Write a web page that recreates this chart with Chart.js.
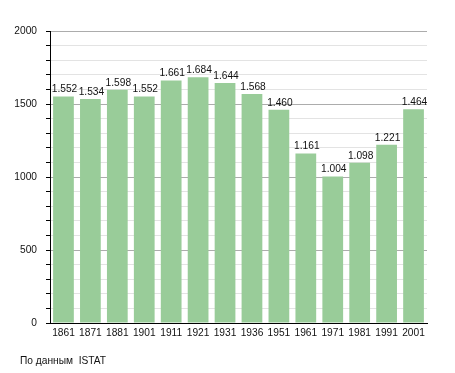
<!DOCTYPE html>
<html>
<head>
<meta charset="utf-8">
<script src="https://cdn.jsdelivr.net/npm/chart.js@4/dist/chart.umd.min.js"></script>
<style>
    html, body { margin: 0; padding: 0; background: #fff; }
    #wrap { position: relative; width: 455px; height: 373px; }
    #note { position: absolute; left: 20px; top: 355px; font: 10.2px "Liberation Sans", Arial, sans-serif;
            color: #111; white-space: pre; }
</style>
</head>
<body>
<div id="wrap">
    <canvas id="chart" width="455" height="373"></canvas>
    <div id="note">По данным  ISTAT</div>
</div>
<script>
// ---- DATA ----
const years = ['1861', '1871', '1881', '1901', '1911', '1921', '1931', '1936',
               '1951', '1961', '1971', '1981', '1991', '2001'];
const population = [1552, 1534, 1598, 1552, 1661, 1684, 1644, 1568,
                    1460, 1161, 1004, 1098, 1221, 1464];
const yMin = 0, yMax = 2000, yStep = 100, yLabelEvery = 500;

const FONT = { family: '"Liberation Sans", Arial, sans-serif', size: 10.2 };
const fmt = v => String(v).replace(/\B(?=(\d{3})+(?!\d))/g, '.');

// ---- VALUE LABELS ----
const valueLabels = {
    id: 'valueLabels',
    afterDatasetsDraw(chart) {
        const { ctx } = chart;
        const meta = chart.getDatasetMeta(0);
        ctx.save();
        ctx.font = `${FONT.size}px ${FONT.family}`;
        ctx.fillStyle = '#111';
        ctx.textAlign = 'center';
        ctx.textBaseline = 'alphabetic';
        meta.data.forEach((bar, i) => {
            ctx.fillText(fmt(population[i]), bar.x + 1, bar.y - 4);
        });
        ctx.restore();
    }
};

new Chart(document.getElementById('chart'), {
    type: 'bar',
    data: {
        labels: years,
        datasets: [{ data: population, backgroundColor: '#99cc99', borderWidth: 0,
                     barPercentage: 0.77, categoryPercentage: 1 }]
    },
    options: {
        responsive: false, animation: false,
        layout: { padding: { top: 31, right: 28, bottom: 0, left: 0 } },
        plugins: { legend: { display: false }, tooltip: { enabled: false } },
        scales: {
            x: {
                grid: { display: false, drawTicks: false },
                border: { color: '#000', width: 1 },
                ticks: { color: '#111', font: FONT, padding: 4, maxRotation: 0, autoSkip: false },
                afterFit: s => { s.height = 50; }
            },
            y: {
                min: yMin, max: yMax,
                grid: {
                    color: c => (c.tick && c.tick.value % yLabelEvery === 0) ? '#acacac' : '#e3e3e3',
                    tickColor: '#000', tickLength: 4
                },
                border: { color: '#000', width: 1 },
                ticks: { stepSize: yStep, autoSkip: false, color: '#111', font: FONT, padding: 9,
                         callback: v => v % yLabelEvery === 0 ? v : '' },
                afterFit: s => { s.width = 50; }
            }
        }
    },
    plugins: [valueLabels]
});
</script>
</body>
</html>
